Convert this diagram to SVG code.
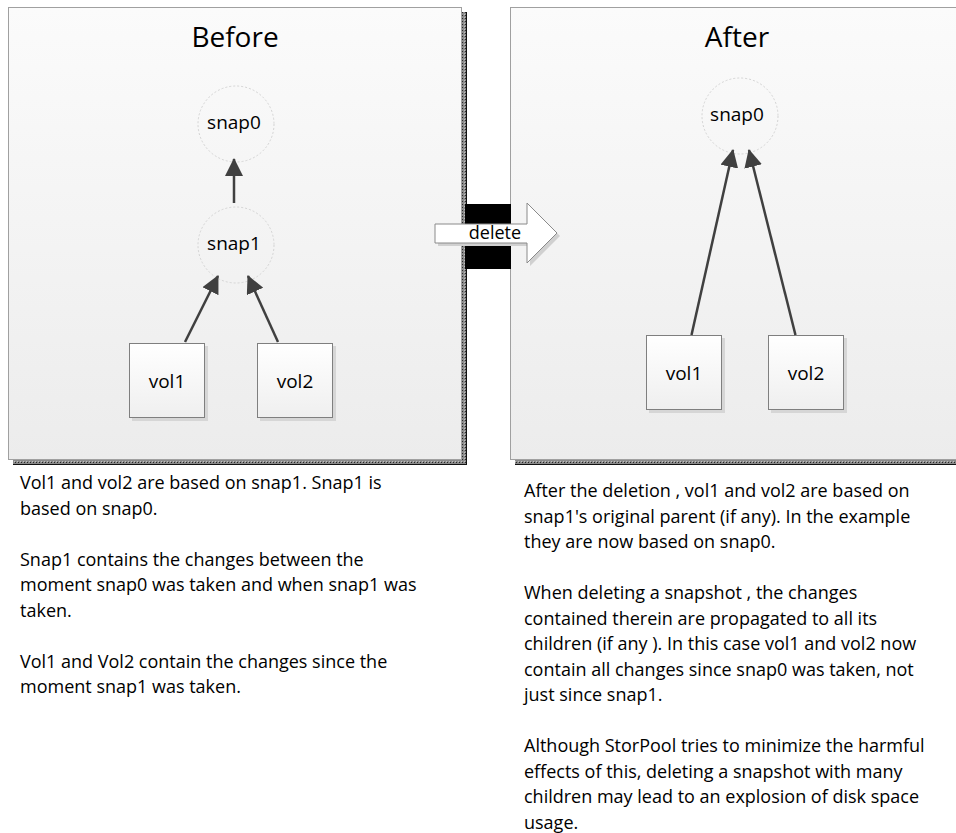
<svg xmlns="http://www.w3.org/2000/svg" width="956" height="833" viewBox="0 0 956 833">
<style>
  .title{font-family:"Open Sans","Noto Sans",sans-serif;font-size:28px;fill:#000;text-anchor:middle}
  .lbl{font-family:"Open Sans","Noto Sans",sans-serif;font-size:19px;fill:#000;text-anchor:middle}
  .body{font-family:"Open Sans","Noto Sans",sans-serif;font-size:18px;fill:#000}
  .panel{fill:url(#panelGrad);stroke:#a0a0a0;stroke-width:1}
  .pshadow{fill:url(#hatch)}
  .snap{fill:none;stroke:#d4d4d4;stroke-width:1;stroke-dasharray:2 2}
  .box{fill:url(#boxGrad);stroke:#7f7f7f;stroke-width:1}
  .bshadow{fill:#d6d6d6}
  .edge{stroke:#404040;stroke-width:2.5;fill:none;marker-end:url(#arr)}
</style>
<defs>
  <linearGradient id="panelGrad" x1="0" y1="0" x2="0" y2="1">
    <stop offset="0" stop-color="#fbfbfb"/>
    <stop offset="1" stop-color="#ececec"/>
  </linearGradient>
  <linearGradient id="boxGrad" x1="0" y1="0" x2="0" y2="1">
    <stop offset="0" stop-color="#ffffff"/>
    <stop offset="1" stop-color="#efefef"/>
  </linearGradient>
  <pattern id="hatch" width="3" height="3" patternUnits="userSpaceOnUse">
    <rect width="3" height="3" fill="#8a8a8a"/>
    <rect width="1" height="1" fill="#2a2a2a"/>
    <rect x="2" y="2" width="1" height="1" fill="#c0c0c0"/>
  </pattern>
  <marker id="arr" viewBox="0 0 18 18" refX="17" refY="9" markerWidth="18" markerHeight="18" markerUnits="userSpaceOnUse" orient="auto">
    <path d="M0,0 L18,9 L0,18 Z" fill="#404040"/>
  </marker>
</defs>

<rect width="956" height="833" fill="#ffffff"/>

<!-- Before panel -->
<g id="panel-before">
  <rect class="pshadow" x="13" y="12" width="454" height="453"/>
  <line x1="13" y1="464.5" x2="467" y2="464.5" stroke="#111" stroke-width="1"/>
  <line x1="466.5" y1="12" x2="466.5" y2="465" stroke="#111" stroke-width="1"/>
  <rect class="panel" x="8.5" y="7.5" width="453" height="452"/>
  <text class="title" x="235" y="47">Before</text>
</g>

<!-- After panel -->
<g id="panel-after">
  <rect class="pshadow" x="515" y="12" width="450" height="453"/>
  <line x1="515" y1="464.5" x2="960" y2="464.5" stroke="#111" stroke-width="1"/>
  <rect class="panel" x="510.5" y="7.5" width="460" height="452"/>
  <text class="title" x="737" y="47">After</text>
</g>

<!-- delete transition -->
<g id="delete-arrow">
  <rect x="465" y="204" width="46" height="65" fill="#000"/>
  <polygon points="438,227 530,227 530,206 560,236 530,266 530,246 438,246" fill="#d0d0d0"/>
  <polygon points="435,224 527,224 527,203 557,233 527,263 527,243 435,243" fill="#ffffff" stroke="#8a8a8a" stroke-width="1"/>
  <text class="lbl" x="495" y="239" style="font-size:18px">delete</text>
</g>

<!-- Before nodes -->
<g id="b-snap0">
  <circle class="snap" cx="236" cy="124" r="38"/>
  <text class="lbl" x="234" y="129">snap0</text>
</g>
<g id="b-snap1">
  <circle class="snap" cx="236" cy="245" r="38"/>
  <text class="lbl" x="234" y="250">snap1</text>
</g>
<g id="b-vol1">
  <rect class="bshadow" x="132" y="346" width="76" height="75"/>
  <rect class="box" x="129.5" y="343.5" width="75" height="74"/>
  <text class="lbl" x="167" y="388">vol1</text>
</g>
<g id="b-vol2">
  <rect class="bshadow" x="260" y="346" width="76" height="75"/>
  <rect class="box" x="257.5" y="343.5" width="75" height="74"/>
  <text class="lbl" x="295" y="388">vol2</text>
</g>

<!-- After nodes -->
<g id="a-snap0">
  <circle class="snap" cx="740" cy="116" r="38"/>
  <text class="lbl" x="737" y="121">snap0</text>
</g>
<g id="a-vol1">
  <rect class="bshadow" x="649" y="338" width="76" height="75"/>
  <rect class="box" x="646.5" y="335.5" width="75" height="74"/>
  <text class="lbl" x="684" y="380">vol1</text>
</g>
<g id="a-vol2">
  <rect class="bshadow" x="771" y="338" width="76" height="75"/>
  <rect class="box" x="768.5" y="335.5" width="75" height="74"/>
  <text class="lbl" x="806" y="380">vol2</text>
</g>

<!-- connectors -->
<g id="connectors">
  <line class="edge" x1="234" y1="203" x2="234" y2="159"/>
  <line class="edge" x1="185" y1="342" x2="218" y2="276"/>
  <line class="edge" x1="278" y1="342" x2="248" y2="276"/>
  <line class="edge" x1="691.5" y1="335" x2="733" y2="150"/>
  <line class="edge" x1="795.5" y1="335" x2="749" y2="150"/>
</g>

<!-- descriptions -->
<g id="text-before">
  <text class="body" x="20" y="489">Vol1 and vol2 are based on snap1. Snap1 is</text>
  <text class="body" x="20" y="514.5">based on snap0.</text>
  <text class="body" x="20" y="565.5">Snap1 contains the changes between the</text>
  <text class="body" x="20" y="591">moment snap0 was taken and when snap1 was</text>
  <text class="body" x="20" y="616.5">taken.</text>
  <text class="body" x="20" y="667.5">Vol1 and Vol2 contain the changes since the</text>
  <text class="body" x="20" y="693">moment snap1 was taken.</text>
</g>
<g id="text-after">
  <text class="body" x="524" y="497">After the deletion , vol1 and vol2 are based on</text>
  <text class="body" x="524" y="522.5">snap1's original parent (if any).  In the example</text>
  <text class="body" x="524" y="548">they are now based on snap0.</text>
  <text class="body" x="524" y="599">When deleting a snapshot , the changes</text>
  <text class="body" x="524" y="624.5">contained therein are propagated to all its</text>
  <text class="body" x="524" y="650">children (if any ). In this case vol1 and vol2 now</text>
  <text class="body" x="524" y="675.5">contain all changes since snap0 was taken, not</text>
  <text class="body" x="524" y="701">just since snap1.</text>
  <text class="body" x="524" y="752">Although StorPool tries to minimize the harmful</text>
  <text class="body" x="524" y="777.5">effects of this, deleting a snapshot with many</text>
  <text class="body" x="524" y="803">children may lead to an explosion of disk space</text>
  <text class="body" x="524" y="828.5">usage.</text>
</g>
</svg>
